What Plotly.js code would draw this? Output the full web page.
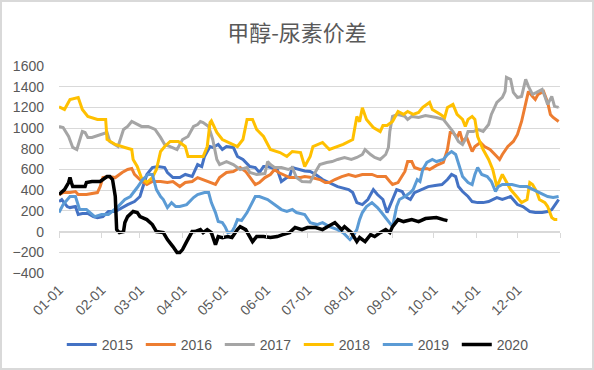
<!DOCTYPE html>
<html>
<head>
<meta charset="utf-8">
<script src="https://cdn.plot.ly/plotly-3.0.1.min.js"></script>
<style>
  html, body { margin: 0; padding: 0; background: #fff; }
  #wrap { position: relative; width: 594px; height: 370px; }
  #chart { width: 594px; height: 370px; }
  #frame { position: absolute; left: 0; top: 0; width: 594px; height: 370px; box-sizing: border-box; border: 2px solid #D9D9D9; pointer-events: none; }
</style>
</head>
<body>
<div id="wrap"><div id="chart"></div><div id="frame"></div></div>
<script>
// ---- data (x = day of year, 0 = 01-01) ----
const seriesNames = ['2015', '2016', '2017', '2018', '2019', '2020'];

const day2015 = [0,2,6,8,12,14,17,21,25,28,32,36,41,46,50,55,59,61,64,68,72,77,79,83,88,92,97,101,104,106,110,112,116,119,122,127,130,134,139,143,146,149,152,159,162,166,168,170,176,179,183,187,192,199,203,211,214,217,221,225,229,232,236,239,241,243,246,250,252,256,259,264,269,274,279,283,286,289,291,294,298,301,305,309,313,319,323,329,331,334,338,343,347,352,356,359,363,364];
const val2015 = [290,310,242,232,242,165,175,175,145,135,145,194,194,232,261,290,339,426,552,619,629,619,571,522,522,552,532,648,629,726,822,813,842,793,822,813,726,697,629,619,571,629,629,600,484,522,532,619,600,585,581,552,503,455,435,406,377,280,261,310,406,358,310,184,242,310,406,387,339,310,377,406,435,445,455,503,552,532,435,387,339,290,280,280,290,329,310,339,310,261,242,194,184,184,194,213,290,310];

const day2016 = [0,3,8,12,14,20,28,30,32,36,41,46,50,53,55,59,64,68,74,79,83,88,92,97,101,105,110,114,117,122,127,132,136,139,143,146,150,154,157,160,163,168,176,179,184,190,194,197,201,206,211,216,221,228,232,238,241,243,247,250,252,254,257,259,263,268,270,275,280,283,285,287,290,292,294,297,301,303,307,310,314,319,321,323,327,331,334,337,340,342,345,347,349,353,356,358,360,364];
const val2016 = [358,377,377,387,358,358,377,435,522,532,522,571,600,610,552,503,455,484,484,474,484,435,474,484,522,503,474,455,522,571,581,619,581,522,455,474,522,552,600,571,552,522,522,532,522,503,474,474,503,532,552,532,552,552,532,532,484,455,474,532,581,677,677,619,600,610,600,640,668,793,958,958,910,967,871,910,774,822,861,822,793,726,697,745,822,871,939,1064,1248,1355,1306,1277,1326,1355,1248,1132,1103,1064];

const day2017 = [0,3,7,10,13,17,19,21,24,30,35,37,43,47,50,53,57,60,65,70,74,77,81,86,90,94,98,101,103,105,109,112,115,117,122,127,132,137,139,144,150,152,154,157,162,167,170,173,177,181,183,187,190,195,199,203,208,213,217,221,223,227,230,234,238,240,241,243,247,252,254,257,262,267,272,275,280,283,287,291,294,296,298,302,305,309,313,315,319,323,325,326,329,331,334,337,340,342,345,348,352,354,356,359,361,364];
const val2017 = [1016,1006,919,813,793,967,958,910,910,939,958,871,822,987,1016,1064,1035,1016,1016,987,910,842,822,793,890,919,1016,1035,1064,1054,1016,890,697,648,677,648,600,619,571,552,561,677,648,619,619,600,619,522,484,484,480,580,648,668,677,697,716,697,716,745,793,745,716,697,745,813,967,1113,1132,1113,1084,1113,1103,1122,1113,1103,1084,1035,967,871,842,890,967,967,987,967,1035,1132,1248,1296,1355,1490,1471,1345,1296,1306,1471,1403,1326,1345,1374,1306,1229,1306,1210,1200];

const day2018 = [0,4,8,14,17,21,28,34,35,41,48,53,54,57,60,64,68,71,74,77,81,87,92,94,98,105,108,110,111,115,119,130,134,137,141,144,149,154,161,166,170,176,179,183,185,192,197,203,207,214,217,219,221,224,229,234,236,239,243,247,251,254,258,262,265,270,272,278,281,283,287,290,294,296,298,301,303,305,309,313,316,319,323,325,329,334,337,341,343,345,348,350,354,356,359,361,363];
const val2018 = [1206,1180,1277,1296,1180,1113,1084,1084,890,842,813,793,697,629,522,474,522,600,774,822,871,871,822,726,726,726,822,1054,1070,958,890,822,890,1084,1084,987,919,793,764,726,774,764,629,726,822,861,793,822,842,890,1113,1061,1196,1084,1006,967,1025,1025,1064,1161,1132,1161,1132,1151,1200,1248,1180,1132,1103,1200,1229,1132,1084,1016,1084,1113,1084,919,793,697,600,435,552,503,406,329,280,310,474,455,387,310,280,242,135,116,116];

const day2019 = [0,3,8,12,15,20,26,31,36,43,48,52,57,61,65,68,71,74,76,79,82,85,88,93,98,101,106,109,111,114,116,119,121,123,126,128,130,133,137,141,143,146,152,159,162,166,170,173,179,183,188,192,197,203,207,212,214,217,219,221,224,228,232,235,239,243,246,248,252,256,258,261,263,265,268,272,275,280,283,286,289,291,294,298,301,303,305,308,312,315,318,320,323,330,336,341,345,350,356,360,364];
const val2019 = [184,261,339,339,213,213,145,165,165,242,310,339,426,503,552,552,406,339,310,232,280,242,242,261,329,358,377,377,280,184,97,87,48,-10,0,48,116,107,184,280,339,339,310,242,213,194,213,184,165,87,68,87,48,19,-10,-77,-48,19,116,184,242,280,232,184,116,48,242,310,339,377,406,503,484,600,668,697,677,697,745,774,745,668,532,474,455,552,619,552,532,484,387,435,455,455,435,435,406,377,339,329,339];

const day2020 = [0,2,4,7,8,9,10,15,19,20,24,30,32,35,37,39,41,42,44,47,48,50,54,57,59,64,68,71,76,79,83,86,88,90,93,97,99,103,105,108,111,114,116,119,123,126,130,132,136,139,141,144,149,154,159,163,168,172,177,181,187,192,196,201,206,208,213,217,219,223,227,230,234,238,241,243,247,251,257,262,267,272,275,280,283];
const val2020 = [358,377,406,474,522,474,435,435,435,474,484,484,503,532,532,503,339,19,-10,0,87,145,194,184,145,116,68,0,-10,-77,-145,-203,-203,-174,-97,0,0,19,-10,19,-10,-126,-48,-58,-48,-58,19,48,19,-48,-97,-48,-48,-58,-48,-29,-10,39,19,39,39,19,48,87,19,48,-10,-97,-58,-97,-29,-48,-10,19,-10,48,116,97,116,97,126,135,135,116,106];

const dayArrays = [day2015, day2016, day2017, day2018, day2019, day2020];
const valArrays = [val2015, val2016, val2017, val2018, val2019, val2020];
const colors = ['#4472C4', '#ED7D31', '#A5A5A5', '#FFC000', '#5B9BD5', '#000000'];

const monthTicks = ['01-01','02-01','03-01','04-01','05-01','06-01','07-01','08-01','09-01','10-01','11-01','12-01'];
const yTicks = [-400,-200,0,200,400,600,800,1000,1200,1400,1600];

// ---- build ----
const BASE = Date.UTC(2015, 0, 1);
function toDate(d) { return new Date(BASE + d * 86400000).toISOString().slice(0, 10); }

const traces = seriesNames.map((name, i) => ({
  type: 'scatter', mode: 'lines', name: name,
  x: dayArrays[i].map(toDate), y: valArrays[i],
  line: { color: colors[i], width: i === 5 ? 3.5 : 3 },
  hoverinfo: 'skip'
}));

const tickDates = monthTicks.map(t => '2015-' + t);
const TXT = '#595959';
const FONT = 'Liberation Sans, Arial, sans-serif';

const layout = {
  width: 594, height: 370,
  margin: { l: 59, r: 34, t: 66, b: 97, pad: 0, autoexpand: false },
  paper_bgcolor: '#fff', plot_bgcolor: '#fff',
  title: { text: '甲醇-尿素价差', font: { family: 'Noto Sans CJK SC', size: 22, color: TXT }, x: 0.5, xanchor: 'center', y: 1 - 33 / 370, yanchor: 'middle' },
  showlegend: true,
  legend: { orientation: 'h', xref: 'container', yref: 'container', x: 0.503, xanchor: 'center', y: 1 - 345 / 370, yanchor: 'middle', font: { family: FONT, size: 14, color: TXT }, itemwidth: 30, entrywidth: 34, entrywidthmode: 'pixels', tracegroupgap: 0 },
  xaxis: {
    type: 'date', range: ['2015-01-01', '2016-01-01'],
    tickmode: 'array', tickvals: tickDates, ticktext: monthTicks,
    tickangle: -45, showgrid: false, zeroline: false, showline: false, ticks: '',
    ticklabelstandoff: 5,
    tickfont: { family: FONT, size: 14, color: TXT }, fixedrange: true
  },
  xaxis2: {
    type: 'date', range: ['2015-01-01', '2016-01-01'], overlaying: 'x', anchor: 'free', position: 0.2,
    tickmode: 'array', tickvals: tickDates.concat(['2016-01-01']),
    showticklabels: false, ticks: 'outside', ticklen: 5, tickcolor: '#D9D9D9', tickwidth: 1,
    showline: true, linecolor: '#D9D9D9', linewidth: 1, showgrid: false, zeroline: false
  },
  yaxis: {
    range: [-400, 1600], tickmode: 'array', tickvals: yTicks,
    gridcolor: '#D9D9D9', gridwidth: 1, zeroline: false, showline: false, ticks: '',
    ticklabelstandoff: 14,
    tickfont: { family: FONT, size: 14, color: TXT }, fixedrange: true
  }
};

// invisible helper trace so that the x-axis line at zero (xaxis2) gets drawn
traces.unshift({ type: 'scatter', mode: 'lines', x: [toDate(0)], y: [0], xaxis: 'x2', yaxis: 'y', showlegend: false, hoverinfo: 'skip', line: { width: 0 }, opacity: 0 });

Plotly.newPlot('chart', traces, layout, { staticPlot: true, displayModeBar: false });
</script>
</body>
</html>
